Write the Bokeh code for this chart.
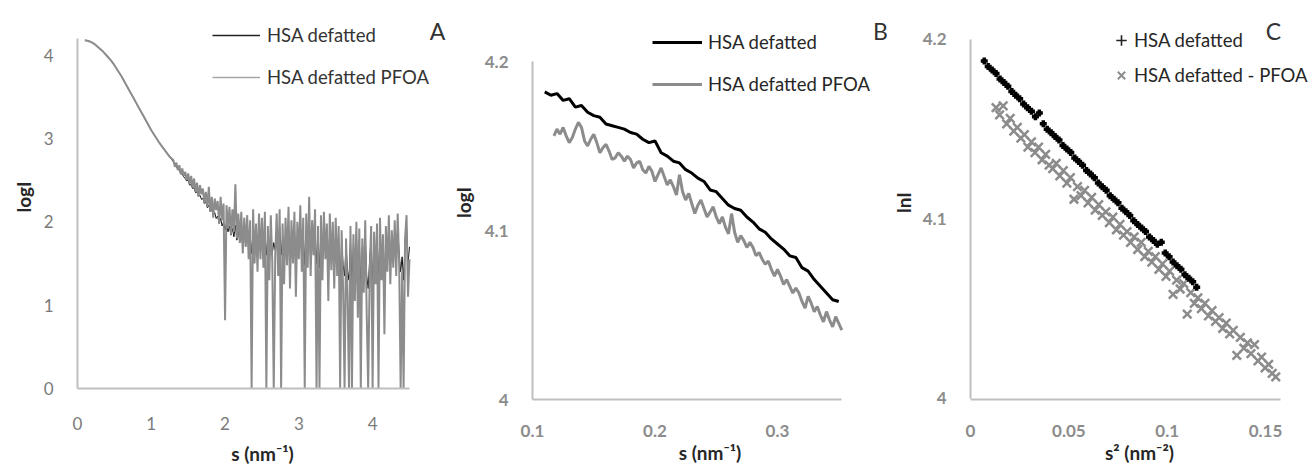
import numpy as np
from bokeh.plotting import figure
from bokeh.layouts import row, column
from bokeh.models import Range1d, FixedTicker, CustomJSTickFormatter, Legend, LegendItem, Label
from bokeh.embed import file_html
from bokeh.resources import INLINE

# ---------------- Panel A data ----------------
sA_smooth = [0.10, 0.15, 0.20, 0.25, 0.30, 0.35, 0.40, 0.45, 0.50, 0.55, 0.60, 0.65,
             0.70, 0.75, 0.80, 0.85, 0.90, 0.95, 1.00, 1.05, 1.10, 1.15, 1.20, 1.25]
logI_smooth = [4.18, 4.17, 4.15, 4.12, 4.08, 4.04, 3.99, 3.94, 3.88, 3.81, 3.74, 3.66,
               3.58, 3.50, 3.42, 3.34, 3.26, 3.18, 3.10, 3.03, 2.96, 2.90, 2.84, 2.78]
sA_noisy = np.round(np.arange(1.30, 4.5001, 0.02), 2)
logI_hsa_noisy = [
    2.72, 2.68, 2.66, 2.63, 2.62, 2.58, 2.57, 2.54, 2.52, 2.49,
    2.50, 2.44, 2.45, 2.40, 2.41, 2.35, 2.36, 2.31, 2.32, 2.27,
    2.28, 2.22, 2.24, 2.17, 2.20, 2.12, 2.15, 2.08, 2.11, 2.04,
    2.07, 1.98, 2.04, 1.95, 2.00, 1.90, 1.98, 1.88, 1.95, 1.84,
    1.92, 1.82, 1.96, 1.78, 1.90, 1.75, 1.88, 1.70, 1.86, 1.72,
    1.90, 1.66, 1.85, 1.62, 1.88, 1.60, 1.84, 1.58, 1.90, 1.62,
    1.86, 1.55, 1.92, 1.60, 1.80, 1.52, 1.88, 1.62, 1.75, 1.66,
    1.90, 1.58, 1.95, 1.60, 1.82, 1.55, 1.88, 1.62, 1.92, 1.50,
    1.85, 1.60, 1.94, 1.52, 1.82, 1.65, 1.95, 1.58, 1.86, 1.48,
    1.90, 1.62, 1.98, 1.55, 1.84, 1.66, 1.92, 1.50, 1.80, 1.45,
    1.88, 1.56, 1.92, 1.65, 1.82, 1.40, 1.90, 1.58, 1.85, 1.50,
    1.86, 1.55, 1.80, 1.20, 1.78, 1.48, 1.35, 1.72, 1.42, 1.30,
    1.80, 1.25, 1.75, 1.40, 1.85, 1.30, 1.78, 1.15, 1.70, 1.45,
    1.84, 1.35, 1.20, 1.55, 1.80, 1.25, 1.76, 1.50, 1.82, 1.30,
    1.88, 1.52, 1.75, 1.30, 1.82, 1.55, 1.90, 1.50, 1.78, 1.60,
    1.86, 1.55, 1.92, 1.62, 1.40, 1.58, 1.30, 1.75, 1.95, 1.50,
    1.70]
logI_pfoa_noisy = [
    2.74, 2.66, 2.71, 2.62, 2.68, 2.57, 2.64, 2.55, 2.60, 2.50,
    2.58, 2.45, 2.55, 2.41, 2.52, 2.36, 2.47, 2.30, 2.44, 2.33,
    2.40, 2.22, 2.36, 2.18, 2.42, 2.12, 2.30, 2.05, 2.28, 2.14,
    2.25, 1.98, 2.30, 2.02, 2.22, 0.82, 2.20, 1.92, 2.18, 1.85,
    2.15, 1.88, 2.45, 1.80, 2.10, 1.75, 2.12, 1.62, 2.05, 1.70,
    2.08, 1.55, 2.02, 0.00, 2.15, 1.50, 1.98, 1.40, 2.10, 1.55,
    2.05, 1.45, 2.12, 0.00, 1.95, 1.30, 2.08, 1.52, 0.00, 1.60,
    2.10, 1.35, 2.15, 0.00, 1.98, 1.25, 2.05, 1.48, 2.18, 1.20,
    2.02, 1.50, 2.12, 1.10, 2.00, 1.55, 2.20, 1.40, 2.05, 0.00,
    2.10, 1.45, 2.30, 1.35, 2.02, 1.60, 2.15, 0.00, 1.95, 0.00,
    2.08, 1.30, 2.12, 1.55, 1.98, 1.05, 2.10, 1.42, 2.00, 1.20,
    2.05, 1.35, 1.95, 0.00, 1.90, 1.20, 0.00, 1.80, 1.10, 0.00,
    1.95, 0.00, 1.85, 1.05, 2.00, 0.85, 1.92, 0.00, 1.80, 1.15,
    2.02, 0.90, 0.00, 1.35, 1.95, 0.00, 1.88, 1.25, 1.98, 0.00,
    2.05, 1.30, 1.85, 0.65, 1.95, 1.40, 2.08, 1.25, 1.90, 1.45,
    2.02, 1.35, 2.10, 1.50, 0.00, 1.40, 0.00, 1.80, 2.08, 1.10,
    1.55]

# ---------------- Panel B data ----------------
sB_hsa = np.round(np.arange(0.110, 0.3501, 0.005), 3)
logI_B_hsa = [4.182, 4.180, 4.181, 4.177, 4.178, 4.173, 4.174, 4.170, 4.168, 4.167,
              4.163, 4.162, 4.161, 4.160, 4.158, 4.157, 4.154, 4.152, 4.153, 4.146,
              4.144, 4.141, 4.140, 4.136, 4.134, 4.131, 4.129, 4.124, 4.123, 4.119,
              4.115, 4.113, 4.112, 4.108, 4.105, 4.101, 4.099, 4.095, 4.092, 4.089,
              4.085, 4.084, 4.078, 4.076, 4.071, 4.067, 4.063, 4.059, 4.058]
sB_pfoa = np.round(np.arange(0.1175, 0.35251, 0.0025), 4)
logI_B_pfoa = [4.156, 4.160, 4.157, 4.161, 4.156, 4.152, 4.155, 4.160, 4.164, 4.161,
               4.153, 4.150, 4.154, 4.157, 4.152, 4.146, 4.149, 4.151, 4.147, 4.142,
               4.143, 4.146, 4.144, 4.141, 4.144, 4.142, 4.137, 4.140, 4.141, 4.136,
               4.134, 4.138, 4.135, 4.129, 4.133, 4.137, 4.132, 4.127, 4.130, 4.126,
               4.121, 4.133, 4.123, 4.118, 4.122, 4.116, 4.110, 4.115, 4.118, 4.113,
               4.108, 4.111, 4.114, 4.108, 4.104, 4.108, 4.102, 4.098, 4.110, 4.099,
               4.093, 4.097, 4.094, 4.090, 4.093, 4.090, 4.085, 4.087, 4.083, 4.080,
               4.082, 4.077, 4.073, 4.077, 4.073, 4.068, 4.071, 4.067, 4.063, 4.066,
               4.063, 4.058, 4.054, 4.061, 4.057, 4.052, 4.055, 4.050, 4.046, 4.052,
               4.047, 4.043, 4.049, 4.045, 4.041]

# ---------------- Panel C data ----------------
s2C_hsa = np.round(np.arange(0.007, 0.1151, 0.002), 3)
lnI_C_hsa = [4.188, 4.185, 4.183, 4.181, 4.178, 4.176, 4.174, 4.171, 4.169, 4.167,
             4.164, 4.162, 4.160, 4.157, 4.159, 4.153, 4.150, 4.148, 4.146, 4.144,
             4.141, 4.139, 4.137, 4.134, 4.132, 4.130, 4.127, 4.125, 4.123, 4.120,
             4.118, 4.116, 4.113, 4.111, 4.109, 4.106, 4.104, 4.102, 4.099, 4.097,
             4.095, 4.093, 4.090, 4.088, 4.086, 4.087, 4.081, 4.079, 4.076, 4.074,
             4.072, 4.069, 4.067, 4.065, 4.062]
s2C_pfoa = np.round(np.arange(0.013, 0.15521, 0.0018), 4)
lnI_C_pfoa = [4.162, 4.158, 4.163, 4.153, 4.156, 4.149, 4.151, 4.145, 4.147, 4.140,
              4.143, 4.137, 4.140, 4.133, 4.136, 4.130, 4.128, 4.131, 4.124, 4.127,
              4.120, 4.123, 4.111, 4.118, 4.113, 4.116, 4.109, 4.112, 4.105, 4.108,
              4.102, 4.104, 4.098, 4.101, 4.094, 4.097, 4.091, 4.093, 4.087, 4.090,
              4.083, 4.087, 4.079, 4.082, 4.076, 4.079, 4.072, 4.075, 4.068, 4.071,
              4.058, 4.066, 4.061, 4.064, 4.047, 4.059, 4.053, 4.056, 4.050, 4.053,
              4.046, 4.049, 4.043, 4.045, 4.039, 4.042, 4.036, 4.038, 4.024, 4.034,
              4.028, 4.031, 4.025, 4.030, 4.021, 4.023, 4.017, 4.019, 4.014, 4.012]

xticksA = [0, 1, 2, 3, 4]
yticksA = [0, 1, 2, 3, 4]
xticksB = [0.1, 0.2, 0.3]
yticksBC = [4.0, 4.1, 4.2]
xticksC = [0, 0.05, 0.1, 0.15]

FONT = "Lato"
GRAY = "#8c8c8c"
AXIS_COL = "#bfbfbf"
TITLE_COL = "#262626"
H = 468
TOP = 5
NODATA = [float("nan")]   # legend-only renderers (nothing drawn in the plot)

fmt = CustomJSTickFormatter(code="return String(Math.round(tick*1000)/1000);")


def make_fig(width, left, bottom, xr, yr, xb, yb, xticks, yticks, bold_ticks, tick_col,
             xlabel, ylabel, xstand, xlabstand, ylabstand):
    p = figure(width=width, height=H, x_range=Range1d(*xr), y_range=Range1d(*yr),
               output_backend="svg", toolbar_location=None, title=None,
               min_border_left=left, min_border_right=0,
               min_border_top=TOP, min_border_bottom=bottom)
    p.outline_line_color = None
    p.grid.visible = False
    p.background_fill_color = "white"
    p.border_fill_color = "white"
    p.xaxis.ticker = FixedTicker(ticks=xticks, minor_ticks=[])
    p.yaxis.ticker = FixedTicker(ticks=yticks, minor_ticks=[])
    p.xaxis.bounds = xb
    p.yaxis.bounds = yb
    for ax in (p.xaxis, p.yaxis):
        ax.formatter = fmt
        ax.axis_line_color = AXIS_COL
        ax.axis_line_width = 2
        ax.major_tick_line_color = None
        ax.minor_tick_line_color = None
        ax.major_label_text_font = FONT
        ax.major_label_text_font_size = "17px"
        ax.major_label_text_font_style = "bold" if bold_ticks else "normal"
        ax.major_label_text_color = tick_col
        ax.axis_label_text_font = FONT
        ax.axis_label_text_font_size = "19px"
        ax.axis_label_text_font_style = "bold"
        ax.axis_label_text_color = TITLE_COL
    p.xaxis.major_label_standoff = xstand
    p.yaxis.major_label_standoff = 18
    p.xaxis.axis_label_standoff = xlabstand
    p.yaxis.axis_label_standoff = ylabstand
    p.xaxis.axis_label = xlabel
    p.yaxis.axis_label = ylabel
    return p


def add_legend(p, items, vx, vy, glyph_w, glyph_h, standoff, spacing, text_col):
    lg = Legend(items=items, location=(vx, vy), orientation="vertical",
                glyph_width=glyph_w, glyph_height=glyph_h, label_height=20,
                label_standoff=standoff, spacing=spacing, padding=0, margin=0,
                border_line_color=None, background_fill_alpha=0,
                label_text_font=FONT, label_text_font_size="18.5px",
                label_text_color=text_col)
    p.add_layout(lg)


def add_letter(p, txt, x, y):
    p.add_layout(Label(x=x, y=y, x_units="screen", y_units="screen", text=txt,
                       text_font=FONT, text_font_size="23px", text_color="#333333",
                       text_align="center", text_baseline="middle"))


# ---------------- Panel A ----------------
# frame: x 77..447, y 5..388
pA = make_fig(447, 77, 80, (0, 5.0151), (0, 4.596), (0, 4.5), (0, 4.2),
              xticksA, yticksA, False, "#7a7a7a",
              "s (nm\u207b\u00b9)", "logI", 22, 9, 6)
xA = list(sA_smooth) + list(sA_noisy)
rA1 = pA.line(xA, list(logI_smooth) + logI_hsa_noisy, line_color="#111111", line_width=1)
rA2 = pA.line(xA, list(logI_smooth) + logI_pfoa_noisy, line_color=GRAY, line_width=2)
legA1 = pA.line(NODATA, NODATA, line_color="#222222", line_width=1.3)
legA2 = pA.line(NODATA, NODATA, line_color="#a6a6a6", line_width=1.5)
add_legend(pA, [LegendItem(label="HSA defatted", renderers=[legA1]),
                LegendItem(label="HSA defatted PFOA", renderers=[legA2])],
           135, 300, 48, 20, 7, 20, "#333333")
add_letter(pA, "A", 360, 358)

# ---------------- Panel B ----------------
# frame: x 532..887, y 5..399
pB = make_fig(440, 85, 69, (0.1, 0.3898), (4.0, 4.23314), (0.1, 0.3525), (4.0, 4.2),
              xticksB, yticksBC, True, GRAY,
              "s (nm\u207b\u00b9)", "logI", 19, 1, 7)
rB1 = pB.line(sB_hsa, logI_B_hsa, line_color="black", line_width=3)
rB2 = pB.line(sB_pfoa, logI_B_pfoa, line_color=GRAY, line_width=3)
add_legend(pB, [LegendItem(label="HSA defatted", renderers=[rB1]),
                LegendItem(label="HSA defatted PFOA", renderers=[rB2])],
           120, 304, 50, 20, 6, 20, "#262626")
add_letter(pB, "B", 348, 369)

# ---------------- Panel C ----------------
# frame: x 970..1308, y 5..399
pC = make_fig(421, 83, 69, (0, 0.17186), (3.99944, 4.21894), (0, 0.1575), (4.0, 4.2),
              xticksC, yticksBC, True, GRAY,
              "s\u00b2 (nm\u207b\u00b2)", "lnI", 19, 1, 5)
rC2 = pC.scatter(s2C_pfoa, lnI_C_pfoa, marker="x", size=12, line_color=GRAY, line_width=2.5)
rC1 = pC.scatter(s2C_hsa, lnI_C_hsa, marker="cross", size=7, line_color="black", line_width=3.5)
legC1 = pC.scatter(NODATA, NODATA, marker="cross", size=10, line_color="#222222", line_width=1.6)
legC2 = pC.scatter(NODATA, NODATA, marker="x", size=12, line_color=GRAY, line_width=2)
add_legend(pC, [LegendItem(label="HSA defatted", renderers=[legC1]),
                LegendItem(label="HSA defatted - PFOA", renderers=[legC2])],
           138, 311, 26, 26, 0, 9, "#262626")
add_letter(pC, "C", 303, 369)

layout = row(column(pA), column(pB), column(pC), spacing=0)
open("out.html", "w").write(file_html(layout, INLINE))
